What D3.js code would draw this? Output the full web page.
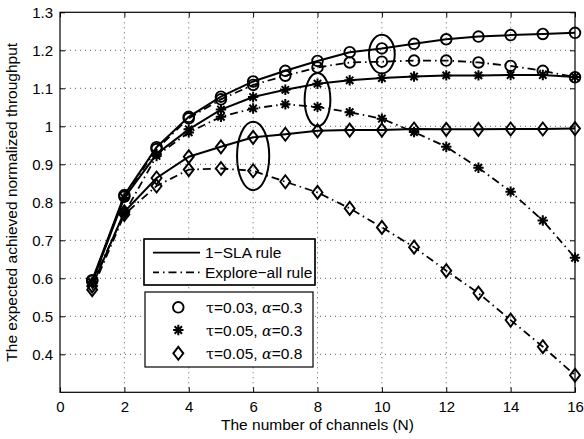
<!DOCTYPE html>
<html><head><meta charset="utf-8">
<script src="https://cdn.jsdelivr.net/npm/d3@7"></script>
<style>
html,body{margin:0;padding:0;background:#fff;}
svg{display:block;}
text{font-family:"Liberation Sans",Arial,Helvetica,sans-serif;fill:#000;}
</style></head>
<body><svg id="c" width="584" height="439"></svg>
<script>
const channels = [1,2,3,4,5,6,7,8,9,10,11,12,13,14,15,16];
const slaTau003 = [0.595,0.819,0.945,1.025,1.078,1.118,1.146,1.172,1.195,1.205,1.217,1.229,1.236,1.240,1.243,1.246];
const expTau003 = [0.593,0.815,0.940,1.021,1.071,1.109,1.133,1.155,1.168,1.170,1.173,1.173,1.168,1.159,1.146,1.129];
const slaTau005 = [0.590,0.812,0.927,0.992,1.044,1.077,1.096,1.112,1.121,1.127,1.131,1.134,1.134,1.135,1.135,1.130];
const expTau005 = [0.588,0.771,0.922,0.984,1.025,1.047,1.058,1.051,1.037,1.020,0.985,0.946,0.891,0.828,0.752,0.654];
const slaAlpha08 = [0.580,0.775,0.864,0.920,0.946,0.971,0.979,0.988,0.990,0.990,0.993,0.992,0.992,0.993,0.993,0.994];
const expAlpha08 = [0.570,0.768,0.843,0.886,0.889,0.883,0.854,0.826,0.784,0.734,0.682,0.620,0.561,0.490,0.420,0.345];
const xTicks = [0,2,4,6,8,10,12,14,16];
const yTicks = [0.4,0.5,0.6,0.7,0.8,0.9,1.0,1.1,1.2,1.3];
const ellipseX = [6,8,10];
const ellipseY = [0.922,1.07,1.19];
const ellipseRx = [0.5,0.4,0.4];
const ellipseRy = [0.09,0.07,0.051];

const series = [
  {v:slaTau003, m:"circle", dash:null},
  {v:expTau003, m:"circle", dash:true},
  {v:slaTau005, m:"star", dash:null},
  {v:expTau005, m:"star", dash:true},
  {v:slaAlpha08, m:"diamond", dash:null},
  {v:expAlpha08, m:"diamond", dash:true}
];

const L=60,R=575,T=12.3,B=392.3;
const x=d3.scaleLinear().domain([0,16]).range([L,R]);
const y=d3.scaleLinear().domain([0.3,1.3]).range([B,T]);
const svg=d3.select("#c");
const DASH="8,4,1.5,4";
const FS=15.5;

// grid
const g=svg.append("g");
g.selectAll(".gx").data(xTicks.slice(1,-1)).enter().append("line")
 .attr("x1",d=>x(d)).attr("x2",d=>x(d)).attr("y1",T).attr("y2",B)
 .attr("stroke","#333").attr("stroke-width",0.8).attr("stroke-dasharray","1,4");
g.selectAll(".gy").data(yTicks.filter(d=>d<1.29)).enter().append("line")
 .attr("y1",d=>y(d)).attr("y2",d=>y(d)).attr("x1",L).attr("x2",R)
 .attr("stroke","#333").attr("stroke-width",0.8).attr("stroke-dasharray","1,4");

// axes
const xa=d3.axisBottom(x).tickValues(xTicks).tickSize(-5).tickPadding(9).tickFormat(d3.format("d"));
const ya=d3.axisLeft(y).tickValues(yTicks).tickSize(-5).tickPadding(7).tickFormat(d=>d===1?"1":d3.format(".1f")(d));
const gx=svg.append("g").attr("transform",`translate(0,${B})`).call(xa);
const gy=svg.append("g").attr("transform",`translate(${L},0)`).call(ya);
const gx2=svg.append("g").attr("transform",`translate(0,${T})`).call(d3.axisTop(x).tickValues(xTicks).tickSize(-5).tickFormat(""));
const gy2=svg.append("g").attr("transform",`translate(${R},0)`).call(d3.axisRight(y).tickValues(yTicks).tickSize(-5).tickFormat(""));
[gx,gy,gx2,gy2].forEach(a=>{a.select(".domain").remove();a.selectAll("line").attr("stroke","#000");
  a.selectAll("text").attr("font-size",15).attr("font-family","Liberation Sans, Arial, sans-serif").attr("fill","#000");});
svg.append("rect").attr("x",L).attr("y",T).attr("width",R-L).attr("height",B-T)
 .attr("fill","none").attr("stroke","#000").attr("stroke-width",1.2);

// lines
const line=d3.line().x((d,i)=>x(channels[i])).y(d=>y(d));
series.forEach(s=>{
  svg.append("path").attr("d",line(s.v)).attr("fill","none").attr("stroke","#000")
   .attr("stroke-width",s.dash?1.8:2).attr("stroke-dasharray",s.dash?DASH:null);
});

function marker(sel,type,cx,cy){
  if(type==="circle"){
    sel.append("circle").attr("cx",cx).attr("cy",cy).attr("r",5.3).attr("fill","none").attr("stroke","#000").attr("stroke-width",1.9);
  } else if(type==="diamond"){
    sel.append("path").attr("d",`M${cx},${cy-6.5}L${cx+5},${cy}L${cx},${cy+6.5}L${cx-5},${cy}Z`)
     .attr("fill","none").attr("stroke","#000").attr("stroke-width",1.9);
  } else {
    const r=5.2;let p="";
    for(let k=0;k<4;k++){const a=k*Math.PI/4;p+=`M${cx-r*Math.cos(a)},${cy-r*Math.sin(a)}L${cx+r*Math.cos(a)},${cy+r*Math.sin(a)}`;}
    sel.append("path").attr("d",p).attr("stroke","#000").attr("stroke-width",2).attr("fill","none");
  }
}
series.forEach(s=>{
  const gm=svg.append("g");
  s.v.forEach((v,i)=>marker(gm,s.m,x(channels[i]),y(v)));
});

// ellipses
ellipseX.forEach((ex,i)=>{
  svg.append("ellipse").attr("cx",x(ex)).attr("cy",y(ellipseY[i]))
   .attr("rx",x(ellipseRx[i])-x(0)).attr("ry",y(0.3)-y(0.3+ellipseRy[i]))
   .attr("fill","none").attr("stroke","#000").attr("stroke-width",2);
});

// legend 1
svg.append("rect").attr("x",144).attr("y",239).attr("width",171).attr("height",46)
 .attr("fill","#fff").attr("stroke","#000").attr("stroke-width",1.2);
svg.append("line").attr("x1",153).attr("x2",200).attr("y1",252.7).attr("y2",252.7).attr("stroke","#000").attr("stroke-width",1.8);
svg.append("line").attr("x1",153).attr("x2",200).attr("y1",272.3).attr("y2",272.3).attr("stroke","#000").attr("stroke-width",1.8).attr("stroke-dasharray",DASH).attr("stroke-dashoffset",2);
svg.append("text").attr("x",205).attr("y",258.2).attr("font-size",FS).text("1\u2212SLA rule");
svg.append("text").attr("x",205).attr("y",277.8).attr("font-size",FS).text("Explore\u2212all rule");
svg.append("rect").attr("x",144).attr("y",239).attr("width",171).attr("height",46)
 .attr("fill","none").attr("stroke","#000").attr("stroke-width",1.2);

// legend 2
svg.append("rect").attr("x",145).attr("y",292).attr("width",168).attr("height",75)
 .attr("fill","#fff").attr("stroke","#000").attr("stroke-width",1.2);
const legLabels=[["0.03","0.3"],["0.05","0.3"],["0.05","0.8"]];
const legMarkers=["circle","star","diamond"];
const legY=[307.3,330,353.3];
legLabels.forEach((lb,i)=>{
  const lm=svg.append("g");
  marker(lm,legMarkers[i],178.3,legY[i]);
  const t=svg.append("text").attr("x",206).attr("y",legY[i]+5.5).attr("font-size",FS);
  t.append("tspan").attr("font-family","DejaVu Serif, serif").attr("font-size",14.5).text("\u03c4");
  t.append("tspan").text("="+lb[0]+", ");
  t.append("tspan").attr("font-family","DejaVu Serif, serif").attr("font-style","italic").attr("font-size",14.5).text("\u03b1");
  t.append("tspan").text("="+lb[1]);
});

// axis labels
svg.append("text").attr("x",x(8)).attr("y",430).attr("text-anchor","middle").attr("font-size",FS).text("The number of channels (N)");
svg.append("text").attr("transform",`translate(17,${(T+B)/2}) rotate(-90)`).attr("text-anchor","middle").attr("font-size",FS)
 .text("The expected achieved normalized throughput");
</script></body></html>
